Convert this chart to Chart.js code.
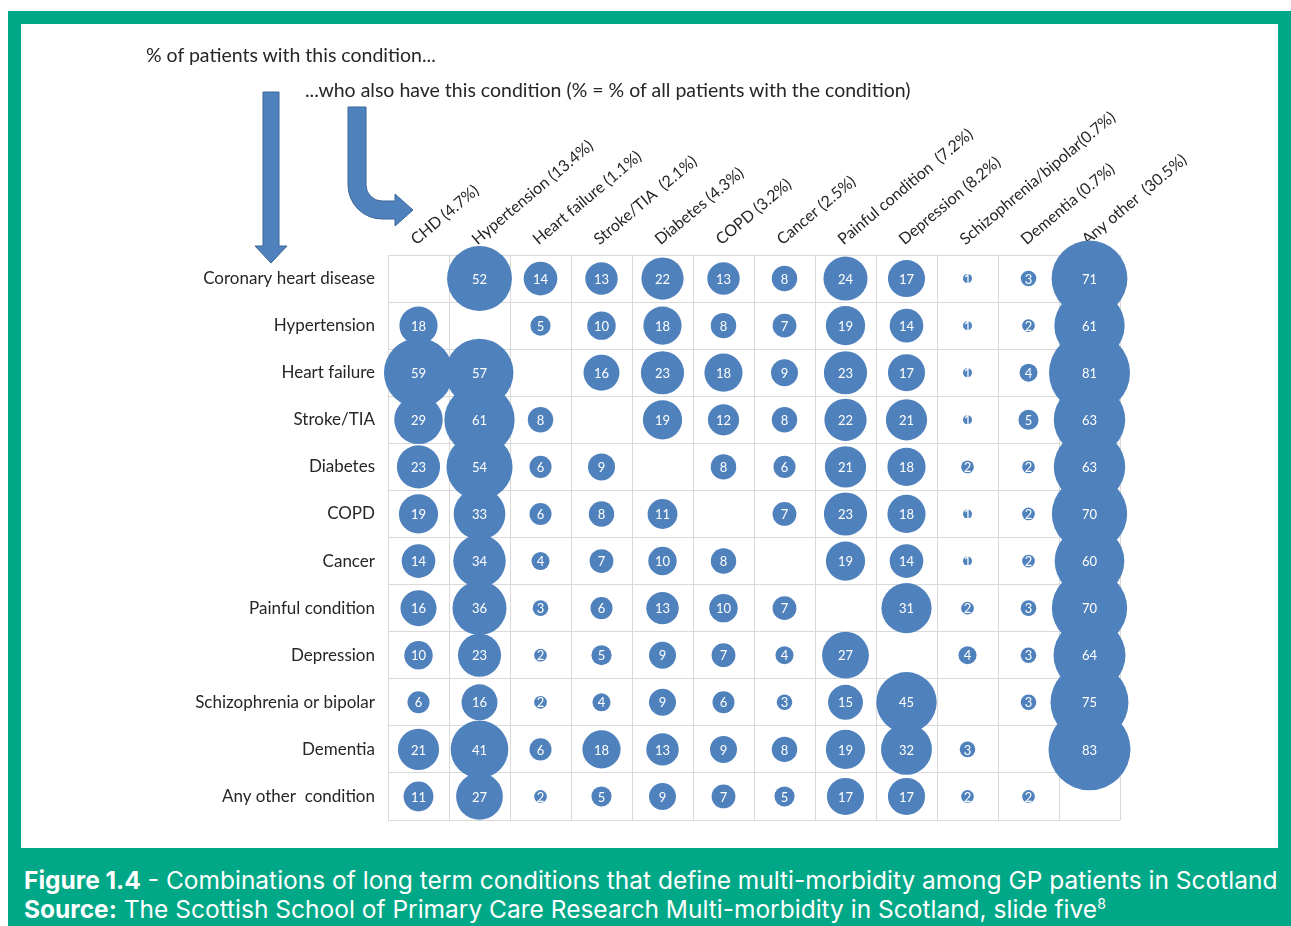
<!DOCTYPE html>
<html>
<head>
<meta charset="utf-8">
<title>Multi-morbidity combinations</title>
<script src="https://cdn.jsdelivr.net/npm/chart.js"></script>
<style>
    body { margin: 0; background: #fff; font-family: Lato, sans-serif; }
    #frame { position: absolute; left: 8px; top: 11px; width: 1283px; height: 915px; background: #00a887; }
    #panel { position: absolute; left: 13px; top: 13px; width: 1257px; height: 824px; background: #fff; overflow: hidden; }
    #chart, #arrows { position: absolute; left: 0; top: 0; }
    .note { position: absolute; font-size: 19.5px; line-height: 22px; color: #262626; white-space: nowrap; }
    #caption { position: absolute; left: 16px; top: 855px; color: #fff; font-family: Inter, sans-serif; font-size: 24.5px; line-height: 29px; white-space: nowrap; }
    #caption b { font-weight: 700; }
    #caption sup { font-size: 14px; line-height: 0; }
</style>
</head>
<body>

<div id="frame">
    <div id="panel">
        <canvas id="chart" width="1257" height="824"></canvas>
        <svg id="arrows" width="1257" height="824">
            <g transform="translate(-21,-24)" fill="#4f81bd" stroke="#3b6597" stroke-width="1">
                <path d="M263 92 L279 92 L279 246 L287 246 L271 263 L255 246 L263 246 Z"/>
                <path d="M348 107 L366 107 L366 185 A16 16 0 0 0 382 201 L395 201 L395 194 L413 210 L395 226 L395 219 L382 219 A34 34 0 0 1 348 185 Z"/>
            </g>
        </svg>
        <div class="note" style="left:125px; top:20px;">% of patients with this condition...</div>
        <div class="note" style="left:284px; top:55px;">...who also have this condition (% = % of all patients with the condition)</div>
    </div>
    <div id="caption">
        <b>Figure 1.4</b> - Combinations of long term conditions that define multi-morbidity among GP patients in Scotland<br>
        <b>Source:</b> The Scottish School of Primary Care Research Multi-morbidity in Scotland, slide five<sup>8</sup>
    </div>
</div>

<script>
    // columns: "...who also have this condition"
    const colLabels = ['CHD (4.7%)', 'Hypertension (13.4%)', 'Heart failure (1.1%)', 'Stroke/TIA  (2.1%)',
        'Diabetes (4.3%)', 'COPD (3.2%)', 'Cancer (2.5%)', 'Painful condition  (7.2%)', 'Depression (8.2%)',
        'Schizophrenia/bipolar(0.7%)', 'Dementia (0.7%)', 'Any other  (30.5%)'];

    // rows: "% of patients with this condition"
    const rowLabels = ['Coronary heart disease', 'Hypertension', 'Heart failure', 'Stroke/TIA', 'Diabetes', 'COPD',
        'Cancer', 'Painful condition', 'Depression', 'Schizophrenia or bipolar', 'Dementia', 'Any other  condition'];

    const chd          = [null, 52, 14, 13, 22, 13, 8, 24, 17, 1, 3, 71];
    const hypertension = [18, null, 5, 10, 18, 8, 7, 19, 14, 1, 2, 61];
    const heartFailure = [59, 57, null, 16, 23, 18, 9, 23, 17, 1, 4, 81];
    const stroke       = [29, 61, 8, null, 19, 12, 8, 22, 21, 1, 5, 63];
    const diabetes     = [23, 54, 6, 9, null, 8, 6, 21, 18, 2, 2, 63];
    const copd         = [19, 33, 6, 8, 11, null, 7, 23, 18, 1, 2, 70];
    const cancer       = [14, 34, 4, 7, 10, 8, null, 19, 14, 1, 2, 60];
    const painful      = [16, 36, 3, 6, 13, 10, 7, null, 31, 2, 3, 70];
    const depression   = [10, 23, 2, 5, 9, 7, 4, 27, null, 4, 3, 64];
    const schizophrenia = [6, 16, 2, 4, 9, 6, 3, 15, 45, null, 3, 75];
    const dementia     = [21, 41, 6, 18, 13, 9, 8, 19, 32, 3, null, 83];
    const anyOther     = [11, 27, 2, 5, 9, 7, 5, 17, 17, 2, 2, null];

    const rows = [chd, hypertension, heartFailure, stroke, diabetes, copd, cancer, painful, depression,
        schizophrenia, dementia, anyOther];

    // bubble area proportional to value
    const points = [];
    rows.forEach((row, i) => {
        row.forEach((v, j) => {
            if (v === null) return;
            points.push({ x: colLabels[j], y: rowLabels[i], r: 4.5 * Math.sqrt(v), v: v });
        });
    });

    const bubbleLabels = {
        id: 'bubbleLabels',
        afterDatasetsDraw(chart) {
            const ctx = chart.ctx;
            const data = chart.data.datasets[0].data;
            ctx.save();
            ctx.fillStyle = '#fff';
            ctx.font = '13px Lato';
            ctx.textAlign = 'center';
            ctx.textBaseline = 'middle';
            chart.getDatasetMeta(0).data.forEach((el, i) => {
                ctx.fillText(String(data[i].v), el.x, el.y + 1);
            });
            ctx.restore();
        }
    };

    const gridColor = '#d9d9d9';

    new Chart(document.getElementById('chart'), {
        type: 'bubble',
        data: {
            datasets: [{
                data: points,
                backgroundColor: '#4f81bd',
                borderWidth: 0,
                clip: false
            }]
        },
        options: {
            responsive: false,
            devicePixelRatio: 1,
            animation: false,
            events: [],
            layout: { autoPadding: false, padding: { left: 0, top: 0, right: 158, bottom: 28 } },
            plugins: { legend: { display: false }, tooltip: { enabled: false } },
            scales: {
                x: {
                    type: 'category',
                    labels: colLabels,
                    position: 'top',
                    offset: true,
                    grid: { offset: true, color: gridColor, drawTicks: false },
                    border: { color: gridColor },
                    ticks: {
                        autoSkip: false, minRotation: 40, maxRotation: 40, padding: 6, labelOffset: 7,
                        color: '#262626', font: { family: 'Lato', size: 16 }
                    },
                    afterFit: (s) => { s.height = 231; }
                },
                y: {
                    type: 'category',
                    labels: rowLabels,
                    offset: true,
                    grid: { offset: true, color: gridColor, drawTicks: false },
                    border: { color: gridColor },
                    ticks: {
                        autoSkip: false, padding: 13,
                        color: '#262626', font: { family: 'Lato', size: 17 }
                    },
                    afterFit: (s) => { s.width = 367; }
                }
            }
        },
        plugins: [bubbleLabels]
    });
</script>

</body>
</html>
